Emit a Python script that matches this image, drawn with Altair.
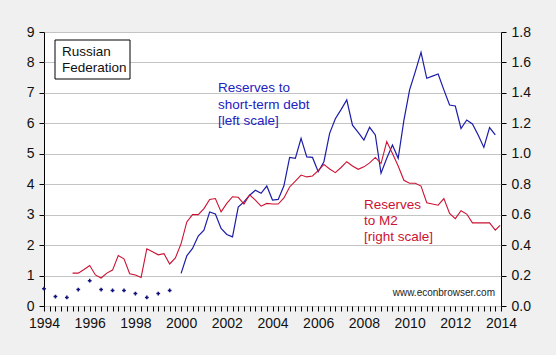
import altair as alt
import pandas as pd

# Reserves to short-term debt (left scale), semi-annual dots 1994-1999.5
dot_years = [1994.0, 1994.5, 1995.0, 1995.5, 1996.0, 1996.5, 1997.0, 1997.5, 1998.0, 1998.5, 1999.0, 1999.5]
dot_vals = [0.57, 0.31, 0.28, 0.54, 0.83, 0.54, 0.51, 0.51, 0.41, 0.28, 0.41, 0.51]

# Reserves to short-term debt (left scale), quarterly line 2000-2013.75
blue_vals = [1.07, 1.65, 1.89, 2.30, 2.49, 3.09, 3.02, 2.55, 2.35, 2.27, 3.25, 3.42,
             3.64, 3.80, 3.70, 3.94, 3.48, 3.50, 3.95, 4.88, 4.85, 5.51, 4.90, 4.88,
             4.41, 4.74, 5.67, 6.15, 6.45, 6.77, 5.94, 5.70, 5.45, 5.87, 5.62, 4.36,
             4.85, 5.29, 4.85, 6.10, 7.10, 7.70, 8.33, 7.48, 7.55, 7.62, 7.10, 6.60,
             6.57, 5.83, 6.11, 5.98, 5.62, 5.21, 5.86, 5.62]
blue_years = [2000 + 0.25 * i for i in range(len(blue_vals))]

# Reserves to M2 (right scale), quarterly 1995.25 onwards
red_vals = [0.216, 0.216, 0.240, 0.266, 0.204, 0.184, 0.216, 0.236, 0.332, 0.310, 0.212, 0.204,
            0.188, 0.376, 0.356, 0.336, 0.344, 0.276, 0.316, 0.410, 0.552, 0.600, 0.600, 0.640,
            0.700, 0.706, 0.618, 0.674, 0.718, 0.714, 0.670, 0.730, 0.696, 0.656, 0.674, 0.670,
            0.670, 0.710, 0.782, 0.820, 0.860, 0.848, 0.854, 0.890, 0.930, 0.900, 0.876, 0.910,
            0.948, 0.920, 0.898, 0.914, 0.940, 0.976, 0.936, 1.080, 1.002, 0.920, 0.826, 0.806,
            0.806, 0.788, 0.678, 0.670, 0.662, 0.706, 0.608, 0.574, 0.626, 0.604, 0.546, 0.546,
            0.546, 0.546, 0.498, 0.530]
red_years = [1995.25 + 0.25 * i for i in range(len(red_vals) - 1)] + [2013.96]

x_ticks = [1994 + 0.25 * i for i in range(81)]
left_ticks = list(range(0, 10))
right_ticks = [0.0, 0.2, 0.4, 0.6, 0.8, 1.0, 1.2, 1.4, 1.6, 1.8]

BLUE = "#1c1ca8"
RED = "#cc1133"
FONT = "Liberation Sans"

dots = pd.DataFrame({"year": dot_years, "v": dot_vals})
blue = pd.DataFrame({"year": blue_years, "v": blue_vals})
red = pd.DataFrame({"year": red_years, "v": red_vals})

xenc = alt.X("year:Q", scale=alt.Scale(domain=[1994, 2014], nice=False, zero=False),
             axis=alt.Axis(values=x_ticks, title=None, grid=False, tickSize=5,
                           labelExpr="datum.value % 2 == 0 ? format(datum.value, 'd') : ''",
                           labelOverlap=False, labelFontSize=14, labelPadding=5,
                           labelFont=FONT, labelColor="#111111", domain=False,
                           tickColor="black", labelFlush=False))

yleft = alt.Y("v:Q", scale=alt.Scale(domain=[0, 9], nice=False),
              axis=alt.Axis(orient="left", values=left_ticks, title=None, grid=True,
                            gridColor="#c4c4c4", tickSize=5, labelFontSize=14, labelPadding=5,
                            labelFont=FONT, labelColor="#111111", domain=False, tickColor="black",
                            labelFlush=False))

yright = alt.Y("v:Q", scale=alt.Scale(domain=[0, 1.8], nice=False),
               axis=alt.Axis(orient="right", values=right_ticks, title=None, grid=False,
                             tickSize=5, labelFontSize=14, labelPadding=5, format=".1f",
                             labelFont=FONT, labelColor="#111111", domain=False,
                             tickColor="black", labelFlush=False))

blue_line = alt.Chart(blue).mark_line(color=BLUE, strokeWidth=1.2).encode(x=xenc, y=yleft)
blue_dots = alt.Chart(dots).mark_point(shape="M-1,0L1,0M0,-1L0,1", size=14, color="#10107a",
                                        strokeWidth=1.5, filled=False, opacity=1).encode(x=xenc, y=yleft)

red_line = alt.Chart(red).mark_line(color=RED, strokeWidth=1.1).encode(x=xenc, y=yright)

box = alt.Chart(pd.DataFrame({"a": [0]})).mark_rect(fill="white", stroke="black", strokeWidth=1).encode(
    x=alt.value(11), x2=alt.value(86), y=alt.value(8), y2=alt.value(47))

title_text = alt.Chart(pd.DataFrame({"t": [["Russian", "Federation"]]})).mark_text(
    align="left", baseline="middle", fontSize=13.5, font=FONT, color="#111111", lineHeight=16
).encode(x=alt.value(18), y=alt.value(20), text="t:N")

blue_text = alt.Chart(pd.DataFrame({"t": [["Reserves to", "short-term debt", "[left scale]"]]})).mark_text(
    align="left", baseline="middle", fontSize=13.5, font=FONT, color="#2222c0", lineHeight=16.5
).encode(x=alt.value(174), y=alt.value(56), text="t:N")

red_text = alt.Chart(pd.DataFrame({"t": [["Reserves", "to M2", "[right scale]"]]})).mark_text(
    align="left", baseline="middle", fontSize=13.5, font=FONT, color="#cc1133", lineHeight=16.2
).encode(x=alt.value(320), y=alt.value(173), text="t:N")

credit = alt.Chart(pd.DataFrame({"t": ["www.econbrowser.com"]})).mark_text(
    align="right", baseline="middle", fontSize=10, font=FONT, color="#222222"
).encode(x=alt.value(451), y=alt.value(261), text="t:N")

left_layer = alt.layer(blue_line, blue_dots)
chart = alt.layer(
    left_layer, red_line, box, title_text, blue_text, red_text, credit
).resolve_scale(y="independent").properties(
    width=457, height=274,
    autosize=alt.AutoSizeParams(type="none"),
    padding={"left": 44, "top": 32, "right": 55, "bottom": 49},
    background="#f0f0f0",
).configure_view(stroke="black", strokeWidth=1, fill="white")

chart.save("out.html", embed_options={"renderer": "svg", "actions": False})
